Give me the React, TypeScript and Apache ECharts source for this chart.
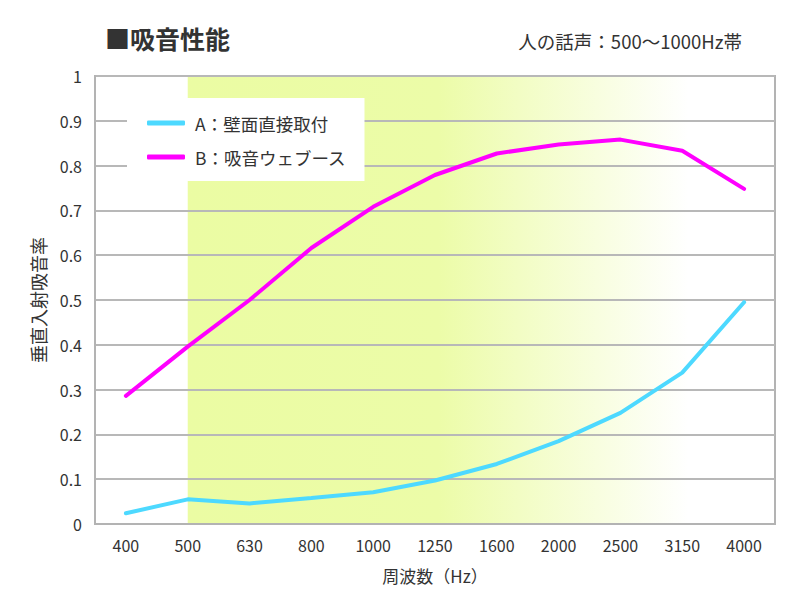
import { useEffect, useRef } from "react";
import * as echarts from "echarts";

const FONT = '"Noto Sans CJK JP", "Noto Sans", sans-serif';

const frequencies = ["400", "500", "630", "800", "1000", "1250", "1600", "2000", "2500", "3150", "4000"];
const wallMounted = [0.024, 0.055, 0.046, 0.058, 0.071, 0.097, 0.134, 0.185, 0.248, 0.338, 0.495];
const soundBooth = [0.286, 0.396, 0.5, 0.616, 0.708, 0.779, 0.827, 0.847, 0.858, 0.833, 0.748];
const speechBand = ["500", "4000"];
const yTicks = [0, 0.1, 0.2, 0.3, 0.4, 0.5, 0.6, 0.7, 0.8, 0.9, 1];

export default function App() {
  const ref = useRef<HTMLDivElement | null>(null);

  useEffect(() => {
    if (!ref.current) return;
    const chart = echarts.init(ref.current, undefined, { renderer: "svg" });

    const option: echarts.EChartsOption = {
      animation: false,
      backgroundColor: "#ffffff",
      textStyle: { fontFamily: FONT },
      title: [
        {
          text: "■吸音性能",
          left: 100,
          top: 20,
          textStyle: { fontFamily: FONT, fontSize: 25, fontWeight: "bold", color: "#333333" }
        },
        {
          text: "人の話声：500〜1000Hz帯",
          right: 49,
          top: 27,
          textStyle: { fontFamily: FONT, fontSize: 18.5, fontWeight: "normal", color: "#333333" }
        }
      ],
      legend: {
        orient: "vertical",
        left: 127,
        top: 98,
        padding: [15, 18, 14, 20],
        itemGap: 14,
        itemWidth: 38,
        itemHeight: 5,
        icon: "roundRect",
        backgroundColor: "#ffffff",
        textStyle: { fontFamily: FONT, fontSize: 17.5, color: "#333333", lineHeight: 20, padding: [0, 0, 0, 5] },
        data: ["A：壁面直接取付", "B：吸音ウェブース"]
      },
      grid: {
        left: 95,
        right: 21,
        top: 76,
        bottom: 73,
        show: true,
        borderColor: "#b3b3b3",
        borderWidth: 2,
        backgroundColor: "#ffffff"
      },
      xAxis: {
        type: "category",
        data: frequencies,
        boundaryGap: true,
        z: 1.5,
        name: "周波数（Hz）",
        nameLocation: "middle",
        nameGap: 43,
        nameTextStyle: { fontFamily: FONT, fontSize: 17, color: "#333333" },
        axisLine: { lineStyle: { color: "#b3b3b3", width: 2 } },
        axisTick: { show: false },
        axisLabel: { fontFamily: FONT, fontSize: 16, color: "#333333", margin: 13 }
      },
      yAxis: {
        type: "value",
        min: 0,
        max: 1,
        interval: 0.1,
        z: 1.5,
        name: "垂直入射吸音率",
        nameLocation: "middle",
        nameRotate: 90,
        nameGap: 48,
        nameTextStyle: { fontFamily: FONT, fontSize: 18, color: "#333333" },
        axisLine: { show: true, lineStyle: { color: "#b3b3b3", width: 2 } },
        axisTick: { show: false },
        splitLine: { lineStyle: { color: "#b8b8b8", width: 2 } },
        axisLabel: {
          fontFamily: FONT,
          fontSize: 16,
          color: "#333333",
          margin: 13,
          formatter: (v: number) => {
            const t = yTicks.find((x) => Math.abs(x - v) < 1e-6);
            return String(t ?? v);
          }
        }
      },
      series: [
        {
          type: "line",
          name: "A：壁面直接取付",
          data: wallMounted,
          showSymbol: false,
          symbol: "none",
          lineStyle: { width: 4, color: "#4dd9ff", cap: "round" },
          itemStyle: { color: "#4dd9ff" },
          markArea: {
            silent: true,
            z: 1,
            itemStyle: {
              color: new echarts.graphic.LinearGradient(0, 0, 1, 0, [
                { offset: 0, color: "#ebfca3" },
                { offset: 0.45, color: "#ecfca8" },
                { offset: 0.9, color: "#ffffff" },
                { offset: 1, color: "#ffffff" }
              ])
            },
            data: [[{ xAxis: speechBand[0] }, { xAxis: speechBand[1] }]]
          }
        },
        {
          type: "line",
          name: "B：吸音ウェブース",
          data: soundBooth,
          showSymbol: false,
          symbol: "none",
          lineStyle: { width: 4, color: "#ff00ff", cap: "round" },
          itemStyle: { color: "#ff00ff" }
        }
      ]
    };

    chart.setOption(option);
    return () => {
      chart.dispose();
    };
  }, []);

  return <div ref={ref} style={{ position: "fixed", left: 0, top: 0, width: 796, height: 597 }} />;
}
